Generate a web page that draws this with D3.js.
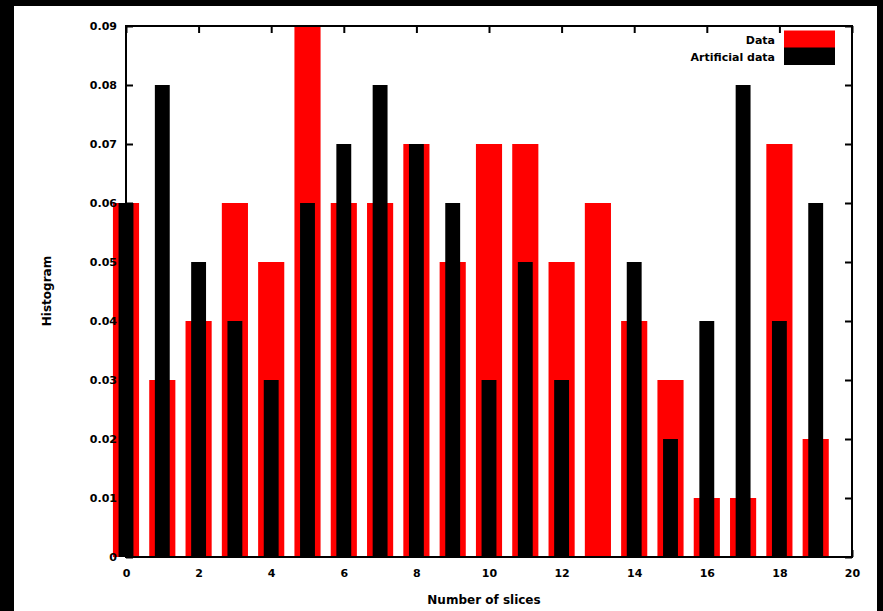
<!DOCTYPE html>
<html>
<head>
<meta charset="utf-8">
<script src="https://cdn.jsdelivr.net/npm/d3@7"></script>
<style>
  html, body { margin: 0; padding: 0; background: #000; }
  svg { display: block; }
  text { font-family: "DejaVu Sans", sans-serif; font-weight: bold; fill: #000; }
</style>
</head>
<body>
<svg id="chart" width="883" height="611"></svg>
<script>
// Number of slices (bin positions)
const slices = [0, 1, 2, 3, 4, 5, 6, 7, 8, 9, 10, 11, 12, 13, 14, 15, 16, 17, 18, 19];
// Histogram of the measured data
const dataValues = [0.06, 0.03, 0.04, 0.06, 0.05, 0.09, 0.06, 0.06, 0.07, 0.05,
                    0.07, 0.07, 0.05, 0.06, 0.04, 0.03, 0.01, 0.01, 0.07, 0.02];
// Histogram of the artificial data
const artificialValues = [0.06, 0.08, 0.05, 0.04, 0.03, 0.06, 0.07, 0.08, 0.07, 0.06,
                          0.03, 0.05, 0.03, 0.00, 0.05, 0.02, 0.04, 0.08, 0.04, 0.06];
const xTicks = [0, 2, 4, 6, 8, 10, 12, 14, 16, 18, 20];
const yTicks = [0, 0.01, 0.02, 0.03, 0.04, 0.05, 0.06, 0.07, 0.08, 0.09];
const seriesNames = ["Data", "Artificial data"];
const seriesColors = ["#ff0000", "#000000"];

const svg = d3.select("#chart");

// white page area inside the black border
svg.append("rect")
  .attr("x", 14).attr("y", 6)
  .attr("width", 863).attr("height", 605)
  .attr("fill", "#fff");

const plotLeft = 126, plotRight = 852, plotTop = 26, plotBottom = 557;
const x = d3.scaleLinear().domain([0, 20]).range([plotLeft, plotRight]);
const y = d3.scaleLinear().domain([0, 0.09]).range([plotBottom, plotTop]);

const redWidth = 0.72, blackWidth = 0.41;

// Data bars (wide, red)
svg.append("g").selectAll("rect")
  .data(slices)
  .join("rect")
  .attr("x", (d) => x(d - redWidth / 2))
  .attr("width", (d) => x(d + redWidth / 2) - x(d - redWidth / 2))
  .attr("y", (d, i) => y(dataValues[i]))
  .attr("height", (d, i) => y(0) - y(dataValues[i]))
  .attr("fill", seriesColors[0]);

// Artificial data bars (narrow, black, drawn on top)
svg.append("g").selectAll("rect")
  .data(slices)
  .join("rect")
  .attr("x", (d) => x(d - blackWidth / 2))
  .attr("width", (d) => x(d + blackWidth / 2) - x(d - blackWidth / 2))
  .attr("y", (d, i) => y(artificialValues[i]))
  .attr("height", (d, i) => y(0) - y(artificialValues[i]))
  .attr("fill", seriesColors[1]);

const yFmt = (d) => d === 0 ? "0" : d3.format(".2f")(d);

// inward ticks on all four sides
const gLeft = svg.append("g").attr("transform", `translate(${plotLeft},0)`)
  .call(d3.axisLeft(y).tickValues(yTicks).tickFormat(yFmt).tickSizeInner(-7).tickSizeOuter(0).tickPadding(9));
const gRight = svg.append("g").attr("transform", `translate(${plotRight},0)`)
  .call(d3.axisRight(y).tickValues(yTicks).tickFormat("").tickSizeInner(-7).tickSizeOuter(0));
const gBottom = svg.append("g").attr("transform", `translate(0,${plotBottom})`)
  .call(d3.axisBottom(x).tickValues(xTicks).tickSizeInner(-7).tickSizeOuter(0).tickPadding(12));
const gTop = svg.append("g").attr("transform", `translate(0,${plotTop})`)
  .call(d3.axisTop(x).tickValues(xTicks).tickFormat("").tickSizeInner(-7).tickSizeOuter(0));

[gLeft, gRight, gBottom, gTop].forEach((g) => {
  g.select(".domain").remove();
  g.selectAll(".tick line").attr("stroke", "#000").attr("stroke-width", 2);
  g.selectAll(".tick text")
    .attr("font-family", "DejaVu Sans, sans-serif")
    .attr("font-weight", "bold")
    .attr("font-size", 11)
    .attr("fill", "#000");
});

// plot frame
svg.append("rect")
  .attr("x", plotLeft).attr("y", plotTop)
  .attr("width", plotRight - plotLeft).attr("height", plotBottom - plotTop)
  .attr("fill", "none").attr("stroke", "#000").attr("stroke-width", 2);

// axis titles
svg.append("text")
  .attr("x", x(10) - 5).attr("y", 604)
  .attr("text-anchor", "middle")
  .attr("font-size", 12)
  .text("Number of slices");

svg.append("text")
  .attr("transform", "translate(51,291) rotate(-90)")
  .attr("text-anchor", "middle")
  .attr("font-size", 12)
  .text("Histogram");

// legend
const legend = svg.append("g");
seriesNames.forEach((name, i) => {
  const cy = 40 + i * 17;
  legend.append("text")
    .attr("x", 775).attr("y", cy + 4)
    .attr("text-anchor", "end")
    .attr("font-size", 11)
    .text(name);
  legend.append("rect")
    .attr("x", 784).attr("y", cy - 9.5)
    .attr("width", 51).attr("height", 17.5)
    .attr("fill", seriesColors[i]);
});
</script>
</body>
</html>
